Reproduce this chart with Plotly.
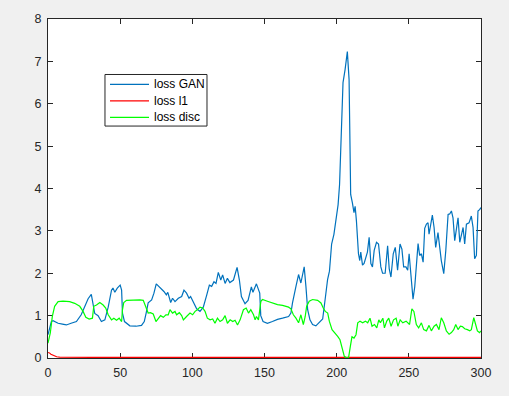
import plotly.graph_objects as go

# ---- data ----
gan_x = [0, 1, 2.3, 3.5, 7, 10, 12.7, 16, 19.7, 23, 25.5, 27.8, 30, 31, 32.4, 34.7, 37, 39.4, 41.7, 44, 45, 46.3, 48, 50, 51, 51.6, 53, 56.7, 61, 64.8, 66.7, 68, 69.4, 71.8, 73.4, 75, 77, 78.7, 80.3, 82, 83, 85, 86.3, 88, 90.3, 92.6, 94.2, 96, 97.7, 98.8, 100.7, 103, 105.3, 107.6, 110, 111.8, 113.4, 115, 116.4, 118, 119.7, 121, 122.7, 124.3, 126, 128.5, 131, 132.6, 134, 136.5, 138.6, 140.9, 142, 144.4, 146.7, 147.4, 149, 152, 155.5, 159, 162.5, 166.7, 168.3, 169.4, 171.8, 173.6, 175.2, 177.5, 178.7, 179.9, 181.5, 183.3, 185.6, 188, 190.3, 192, 193.7, 195, 196.5, 198.1, 199.3, 201, 202, 203.5, 204.4, 205.8, 207.4, 208.6, 209.7, 210.9, 212, 212.8, 213.7, 215.1, 216, 216.7, 217.9, 219, 220.2, 221.3, 222.5, 223.7, 224.8, 226, 227.6, 229, 230.6, 231.8, 233.6, 235.3, 236.4, 237.6, 239.2, 240.6, 242.2, 243.9, 245.2, 246.4, 248, 249.2, 250.2, 251.3, 252.9, 254.1, 255.2, 256.4, 257.5, 258.7, 259.9, 261, 262.2, 263.3, 264, 264.9, 266.3, 267.5, 268.6, 270.2, 271.4, 272.5, 274.2, 275.6, 277.2, 278.3, 279.5, 280.6, 281.8, 282.9, 284.1, 285.3, 286.4, 287.6, 288.7, 289.9, 291.7, 293.3, 294.5, 295.6, 296.8, 297.9, 299, 300]
gan_y = [0.55, 0.72, 0.86, 0.88, 0.82, 0.8, 0.78, 0.82, 0.86, 1.02, 1.2, 1.4, 1.5, 1.3, 1.05, 1.0, 0.86, 0.9, 1.2, 1.6, 1.65, 1.55, 1.65, 1.72, 1.6, 1.06, 0.86, 0.76, 0.75, 0.77, 0.86, 1.06, 1.3, 1.37, 1.53, 1.75, 1.69, 1.62, 1.57, 1.49, 1.55, 1.31, 1.41, 1.33, 1.41, 1.45, 1.6, 1.53, 1.41, 1.45, 1.33, 1.16, 1.1, 1.2, 1.49, 1.72, 1.69, 1.8, 1.76, 2.02, 1.84, 1.96, 1.76, 1.88, 1.78, 1.84, 2.14, 1.84, 1.45, 1.28, 1.36, 1.68, 1.55, 1.75, 1.53, 1.0, 0.86, 0.82, 0.86, 0.91, 0.94, 0.98, 1.06, 1.3, 1.69, 1.97, 1.77, 2.15, 1.69, 1.14, 0.9, 0.79, 0.76, 0.83, 0.92, 1.38, 1.85, 2.05, 2.69, 2.92, 3.23, 3.62, 4.09, 5.88, 6.5, 6.8, 7.23, 6.57, 3.86, 3.66, 3.43, 3.58, 3.23, 2.46, 2.3, 2.5, 2.19, 2.23, 2.38, 2.5, 2.85, 2.23, 2.15, 2.54, 2.73, 2.69, 2.15, 2.0, 2.0, 2.65, 2.11, 1.91, 2.46, 2.61, 2.07, 2.69, 2.57, 2.15, 2.15, 2.07, 2.46, 2.07, 1.39, 1.68, 2.22, 2.7, 2.42, 2.46, 2.26, 3.06, 3.16, 3.19, 2.92, 3.12, 3.37, 3.08, 2.61, 2.96, 2.53, 2.3, 1.99, 2.53, 3.39, 3.4, 3.47, 3.31, 2.77, 3.08, 3.31, 2.73, 2.92, 3.08, 2.69, 3.16, 3.19, 3.35, 3.08, 2.34, 2.42, 3.47, 3.5, 3.55]

l1_x = [0, 1, 2, 3, 4, 6, 8, 15, 30, 100, 200, 300]
l1_y = [0.13, 0.12, 0.09, 0.07, 0.05, 0.03, 0.02, 0.018, 0.016, 0.015, 0.015, 0.015]

disc_x = [0, 1.6, 3, 4.6, 7, 10.4, 15, 18.5, 22, 24.3, 26.2, 28.5, 30.8, 31.7, 33.6, 35.9, 38.2, 40, 41.7, 44, 45.6, 47.5, 49.3, 51, 51.6, 52.5, 54.4, 59, 63.7, 66, 67.8, 69.4, 71, 72.9, 74.8, 76.4, 78, 79.9, 81.7, 83.3, 84.5, 86.3, 88, 89.1, 91, 92.6, 93.8, 96, 98.4, 100.2, 101.9, 103.5, 105.3, 107.2, 108.8, 110.4, 112.3, 114.1, 115.7, 117.4, 119.2, 121, 122.7, 124.3, 126.2, 128, 129.6, 131.3, 133.1, 135.4, 137.3, 138.9, 140.5, 142.4, 143.5, 144.4, 145.8, 147.5, 148.6, 152, 155.5, 159, 162.5, 166.7, 168.3, 170, 171.8, 173.6, 175.2, 176.9, 178.2, 179.2, 181, 183.3, 186.8, 189.1, 190.7, 192.1, 193.8, 194.9, 196.8, 199, 200.7, 202.3, 203.7, 205.3, 207, 208.3, 209.5, 210.6, 212, 213.4, 214.6, 216.2, 218, 219.9, 221.5, 223.1, 224.5, 226.2, 227.8, 229.2, 230.3, 232, 233.1, 234.7, 236.1, 237.7, 239.4, 241.2, 242.4, 244, 245.8, 248.1, 250.5, 252.1, 253.5, 255.2, 256.8, 258.7, 260.3, 262.2, 264, 265.6, 267.5, 269.1, 270.9, 272.5, 274.2, 276, 277.9, 279.5, 281.1, 282.5, 284.1, 285.7, 287.1, 288.7, 290.6, 292.2, 293.3, 295, 296.3, 297.5, 299, 300]
disc_y = [0.35, 0.59, 0.98, 1.22, 1.33, 1.34, 1.33, 1.29, 1.22, 1.1, 0.96, 0.92, 0.94, 1.22, 1.25, 1.31, 1.25, 1.18, 1.02, 0.9, 0.94, 0.89, 0.94, 0.86, 1.14, 1.31, 1.36, 1.37, 1.37, 1.36, 1.22, 1.06, 1.07, 1.04, 0.86, 0.94, 1.0, 0.96, 1.02, 1.02, 1.14, 1.06, 1.1, 1.02, 1.07, 1.0, 0.9, 0.98, 1.06, 1.02, 1.1, 1.14, 1.2, 1.18, 1.1, 0.94, 0.9, 0.92, 0.82, 0.94, 0.86, 0.9, 1.0, 0.82, 0.9, 0.86, 0.89, 0.78, 0.9, 1.14, 1.18, 1.06, 1.14, 1.02, 0.9, 0.98, 0.9, 1.34, 1.38, 1.34, 1.3, 1.26, 1.24, 1.2, 1.16, 1.02, 0.94, 0.83, 1.02, 0.79, 0.98, 1.22, 1.34, 1.38, 1.36, 1.3, 1.18, 1.1, 1.06, 0.87, 0.67, 0.59, 0.51, 0.43, 0.24, 0.04, 0.0, 0.02, 0.28, 0.5, 0.47, 0.55, 0.83, 0.87, 0.83, 0.87, 0.83, 0.94, 0.75, 0.79, 0.71, 0.9, 0.83, 0.94, 0.71, 0.87, 0.94, 0.75, 0.9, 0.94, 0.75, 0.9, 0.83, 0.87, 0.79, 1.16, 1.1, 0.79, 0.71, 0.83, 0.67, 0.64, 0.77, 0.64, 0.75, 0.79, 0.67, 0.95, 0.83, 0.64, 0.56, 0.6, 0.67, 0.79, 0.67, 0.75, 0.74, 0.69, 0.67, 0.64, 0.67, 0.95, 0.79, 0.64, 0.6, 0.64]

x_ticks = [0, 50, 100, 150, 200, 250, 300]
y_ticks = [0, 1, 2, 3, 4, 5, 6, 7, 8]

series_names = ["loss GAN", "loss l1", "loss disc"]
series_colors = ["#0072BD", "#FF0000", "#00FF00"]

FONT = "Liberation Sans, Arial, Helvetica, sans-serif"

fig = go.Figure()
for (xs, ys), name, color in zip([(gan_x, gan_y), (l1_x, l1_y), (disc_x, disc_y)],
                                 series_names, series_colors):
    fig.add_trace(go.Scatter(x=xs, y=ys, mode="lines", name=name,
                             line=dict(color=color, width=1.2), showlegend=False))

axis_common = dict(showgrid=False, zeroline=False, showline=True, linecolor="#262626",
                   linewidth=1, mirror="ticks", ticks="inside", ticklen=5,
                   tickcolor="#262626", layer="below traces",
                   tickfont=dict(family=FONT, size=12.5, color="#262626"))
fig.update_xaxes(range=[0, 300], tickvals=x_ticks, ticklabelstandoff=3, **axis_common)
fig.update_yaxes(range=[0, 8], tickvals=y_ticks, ticklabelstandoff=3, **axis_common)

# manual MATLAB-style legend box (paper coordinates of the plot area)
shapes = [dict(type="rect", xref="paper", yref="paper", x0=0.1316, x1=0.3672,
               y0=0.6842, y1=0.8363, line=dict(color="#262626", width=1),
               fillcolor="#FFFFFF", layer="above")]
annotations = []
legend_rows = [0.8070, 0.7582, 0.7096]
for ry, name, color in zip(legend_rows, series_names, series_colors):
    shapes.append(dict(type="line", xref="paper", yref="paper", x0=0.1432, x1=0.2333,
                       y0=ry, y1=ry, line=dict(color=color, width=1.2), layer="above"))
    annotations.append(dict(xref="paper", yref="paper", x=0.2402, y=ry, text=name,
                            showarrow=False, xanchor="left", yanchor="middle",
                            font=dict(family=FONT, size=12, color="#000000")))

fig.update_layout(
    width=509, height=396,
    margin=dict(l=48, r=28, t=16, b=38),
    paper_bgcolor="#F0F0F0", plot_bgcolor="#FFFFFF",
    showlegend=False,
    shapes=shapes, annotations=annotations,
)
fig.write_html("out.html")
